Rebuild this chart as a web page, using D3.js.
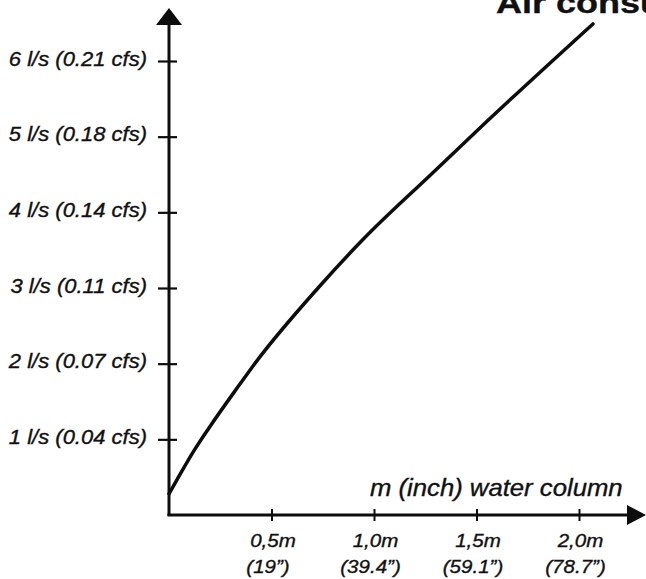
<!DOCTYPE html>
<html><head><meta charset="utf-8">
<script src="https://cdn.jsdelivr.net/npm/d3@7"></script>
<style>
html,body{margin:0;padding:0;background:#fff;overflow:hidden}
svg{display:block}
text{font-family:"Liberation Sans",Arial,sans-serif;fill:#111;stroke:#111;stroke-width:0.35px}
</style></head><body>
<svg id="chart" width="646" height="579"></svg>
<script>
// ---- data ----
const titleText = "Air consumption";
const xTitle = "m (inch) water column";
const yTickValues = [1, 2, 3, 4, 5, 6];
const yTickLabels = ["1 l/s (0.04 cfs)", "2 l/s (0.07 cfs)", "3 l/s (0.11 cfs)",
                     "4 l/s (0.14 cfs)", "5 l/s (0.18 cfs)", "6 l/s (0.21 cfs)"];
const xTickValues = [0.5, 1.0, 1.5, 2.0];
const xTickMetric = ["0,5m", "1,0m", "1,5m", "2,0m"];
const xTickImperial = ["(19\u201D)", "(39.4\u201D)", "(59.1\u201D)", "(78.7\u201D)"];
// air consumption curve: water column (m) vs flow (l/s)
const curveX = [0, 0.044, 0.122, 0.195, 0.346, 0.41, 0.727, 0.946, 1.278, 1.546, 2.068];
const curveY = [0.28, 0.49, 0.85, 1.15, 1.73, 1.97, 3.0, 3.64, 4.50, 5.19, 6.49];

// ---- drawing ----
const svg = d3.select("#chart");
const x = d3.scaleLinear().domain([0, 2]).range([169, 579]);
const y = d3.scaleLinear().domain([0, 6]).range([515, 61]);
const ink = "#0d0d0d";

function stretch(sel, k) {
  sel.each(function () {
    const w = this.getComputedTextLength();
    d3.select(this).attr("textLength", w * k).attr("lengthAdjust", "spacingAndGlyphs");
  });
}

// axes lines with arrows
svg.append("line").attr("x1", x(0)).attr("x2", x(0)).attr("y1", y(0) + 1).attr("y2", 24)
  .attr("stroke", ink).attr("stroke-width", 3);
svg.append("path").attr("d", `M${x(0)},8 L${x(0) - 13},25 L${x(0) + 13},25 Z`).attr("fill", ink);
svg.append("line").attr("x1", x(0) - 1.5).attr("x2", 630).attr("y1", y(0)).attr("y2", y(0))
  .attr("stroke", ink).attr("stroke-width", 3);
svg.append("path").attr("d", `M646,${y(0)} L627,${y(0) - 10} L627,${y(0) + 10} Z`).attr("fill", ink);

// y axis ticks + labels
const yAxis = d3.axisLeft(y).tickValues(yTickValues)
  .tickFormat((d, i) => yTickLabels[i]).tickSizeInner(11).tickSizeOuter(0).tickPadding(11);
const gy = svg.append("g").attr("transform", `translate(${x(0)},0)`).call(yAxis);
gy.select(".domain").remove();
gy.selectAll(".tick line").attr("x1", 8).attr("stroke", ink).attr("stroke-width", 2.2);
gy.selectAll(".tick text").attr("fill", ink).attr("font-size", 20).attr("font-style", "italic")
  .attr("font-family", '"Liberation Sans",Arial,sans-serif').attr("dy", "0.2em");
stretch(gy.selectAll(".tick text"), 1.1);

// x axis ticks + labels
const xAxis = d3.axisBottom(x).tickValues(xTickValues).tickFormat("").tickSizeInner(6).tickSizeOuter(0);
const gx = svg.append("g").attr("transform", `translate(0,${y(0)})`).call(xAxis);
gx.select(".domain").remove();
gx.selectAll(".tick line").attr("y1", -6).attr("stroke", ink).attr("stroke-width", 2);
gx.selectAll(".tick").each(function (d, i) {
  const g = d3.select(this);
  g.append("text").attr("x", 1).attr("y", 32).attr("text-anchor", "middle")
    .attr("font-size", 19).attr("font-style", "italic").text(xTickMetric[i]);
  g.append("text").attr("x", -4).attr("y", 58).attr("text-anchor", "middle")
    .attr("font-size", 19).attr("font-style", "italic").text(xTickImperial[i]);
});
stretch(gx.selectAll(".tick text"), 1.08);

// axis title
const xt = svg.append("text").attr("x", 370).attr("y", 496).attr("font-size", 24)
  .attr("font-style", "italic").text(xTitle);
stretch(xt, 1.07);

// chart title (cropped at right edge, as in the source)
const tt = svg.append("text").attr("x", 496).attr("y", 13).attr("font-size", 30)
  .attr("font-weight", "bold").text(titleText);
stretch(tt, 1.2);

// curve
const pts = curveX.map((v, i) => [v, curveY[i]]);
const line = d3.line().x(d => x(d[0])).y(d => y(d[1])).curve(d3.curveMonotoneX);
svg.append("path").datum(pts).attr("d", line).attr("fill", "none")
  .attr("stroke", ink).attr("stroke-width", 3.5).attr("stroke-linecap", "round");
</script>
</body></html>
